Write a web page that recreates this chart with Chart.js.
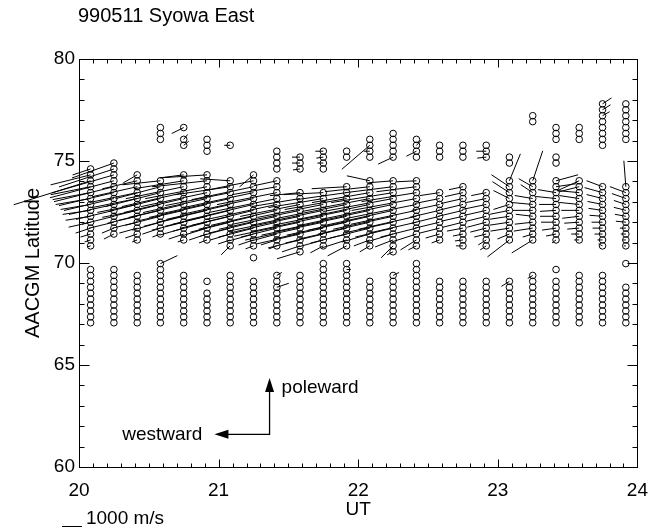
<!DOCTYPE html>
<html>
<head>
<meta charset="utf-8">
<script src="https://cdn.jsdelivr.net/npm/chart.js@4"></script>
<style>
html, body { margin: 0; padding: 0; background: #fff; }
canvas { display: block; }
</style>
</head>
<body>
<canvas id="c" width="660" height="530"></canvas>
<script>
const FONT = '"Liberation Sans", Arial, Helvetica, sans-serif';

const titleText = '990511 Syowa East';
const timeTicks = [20, 21, 22, 23, 24];
const latTicks = [60, 65, 70, 75, 80];

// scan times (UT hours), one column of range gates each
const scanTimes = [20.083, 20.25, 20.417, 20.583, 20.75, 20.917, 21.083, 21.25,
  21.417, 21.583, 21.75, 21.917, 22.083, 22.25, 22.417, 22.583, 22.75, 22.917,
  23.083, 23.25, 23.417, 23.583, 23.75, 23.917];

// AACGM latitude of each range gate
const gateLat = [67.07, 67.36, 67.65, 67.94, 68.23, 68.52, 68.81, 69.10, 69.39,
  69.68, 69.97, 70.26, 70.55, 70.84, 71.13, 71.42, 71.71, 72.00, 72.29, 72.58,
  72.87, 73.16, 73.45, 73.74, 74.03, 74.32, 74.61, 74.90, 75.19, 75.48, 75.77,
  76.06, 76.35, 76.64, 76.93, 77.22, 77.51, 77.80];

// gates with echoes in each scan
const echoGates = [
  [0,1,2,3,4,5,6,7,8,9,13,14,15,16,17,18,19,20,21,22,23,24,25,26],
  [0,1,2,3,4,5,6,7,8,9,15,16,17,18,19,20,21,22,23,24,25,26,27],
  [0,1,2,3,4,5,6,7,8,14,15,16,17,18,19,20,21,22,23,24,25],
  [0,1,2,3,4,5,6,7,8,9,10,15,16,17,18,19,20,21,22,23,24,31,32,33],
  [0,1,2,3,4,5,6,7,8,14,15,16,17,18,19,20,21,22,23,24,25,30,31,33],
  [0,1,2,3,4,5,7,14,15,16,17,18,19,20,21,22,23,24,25,29,30,31],
  [0,1,2,3,4,5,6,7,8,13,14,15,16,17,18,19,20,21,22,23,24,30],
  [0,1,2,3,4,5,6,7,11,13,14,15,16,17,18,19,20,21,22,23,24,25],
  [0,1,2,3,4,5,6,7,8,13,14,15,16,17,18,19,20,21,22,23,24,26,27,28,29],
  [0,1,2,3,4,5,6,7,8,12,13,14,15,16,17,18,19,20,21,22,26,27,28],
  [0,1,2,3,4,5,6,7,8,9,10,13,14,15,16,17,18,19,20,21,22,26,27,28,29],
  [0,1,2,3,4,5,6,7,8,9,10,13,14,15,16,17,18,19,20,21,22,23,28,29],
  [0,1,2,3,4,5,6,7,13,14,15,16,17,18,19,20,21,22,23,24,28,29,30,31],
  [0,1,2,3,4,5,6,7,8,12,13,14,15,16,17,18,19,20,21,22,23,24,28,29,30,31,32],
  [0,1,2,3,4,5,6,7,8,9,10,13,14,15,16,17,18,19,20,21,22,23,24,28,29,30,31],
  [0,1,2,3,4,5,6,7,14,15,16,17,18,19,20,21,22,28,29,30],
  [0,1,2,3,4,5,6,7,13,14,15,16,17,18,19,20,21,22,23,28,29,30],
  [0,1,2,3,4,5,6,7,13,14,15,16,17,18,19,20,21,22,28,29,30],
  [0,1,2,3,4,5,6,7,14,15,16,17,18,19,20,21,22,23,24,27,28],
  [0,1,2,3,4,5,6,7,8,14,15,16,17,18,19,20,21,22,23,24,34,35],
  [0,1,2,3,4,5,6,7,9,14,15,16,17,18,19,20,21,22,23,24,27,28,31,32,33],
  [0,1,2,3,4,5,6,7,8,14,15,16,17,18,19,20,21,22,23,24,31,32,33],
  [0,1,2,3,4,5,6,7,8,13,14,15,16,17,18,19,20,21,22,23,30,31,32,33,34,35,36,37],
  [0,1,2,3,4,5,6,10,13,14,15,16,17,18,19,20,21,22,23,31,32,33,34,35,36,37]
];

// velocity vectors per scan: [gate, eastward m/s, northward m/s]
const vectors = [
  [[26,-900,-300],[25,-2000,-500],[24,-3850,-1200],[23,-2000,-400],[22,-1900,-350],[21,-1750,-300],[20,-1500,-250],[19,-1400,-200],[18,-1250,-200],[17,-1100,-250],[16,-750,-250],[15,-500,-150],[14,-300,-100],[13,-150,-50]],
  [[27,-2100,-750],[26,-2750,-900],[25,-3100,-900],[24,-3200,-850],[23,-3000,-750],[22,-2750,-650],[21,-2500,-600],[20,-2250,-500],[19,-1900,-450],[18,-1600,-400],[17,-1250,-300],[16,-600,-250],[15,-500,-250]],
  [[25,-700,-400],[24,-1750,-400],[23,-2250,-500],[22,-2400,-500],[21,-2250,-450],[20,-2000,-400],[19,-1750,-350],[18,-1500,-350],[17,-1250,-300],[16,-900,-250],[15,-600,-200],[14,-250,-100]],
  [[24,-1900,-200],[23,-2250,-600],[22,-2750,-700],[21,-2600,-650],[20,-2400,-600],[19,-2100,-500],[18,-1750,-450],[17,-1400,-400],[16,-900,-300],[15,-400,-150],[10,850,400]],
  [[25,-1200,-150],[24,-2500,-400],[23,-2900,-600],[22,-3100,-700],[21,-3000,-700],[20,-2750,-650],[19,-2400,-550],[18,-2000,-500],[17,-1600,-400],[16,-1200,-350],[15,-750,-250],[14,-300,-100],[33,-600,-300],[31,200,250],[30,250,200]],
  [[25,-2350,-150],[24,-2750,-300],[23,-3100,-600],[22,-3300,-700],[21,-3200,-700],[20,-2900,-650],[19,-2500,-600],[18,-2100,-500],[17,-1700,-450],[16,-1300,-400],[15,-900,-300],[14,-400,-150]],
  [[24,-1500,100],[23,-2750,-400],[22,-3250,-650],[21,-3400,-750],[20,-3200,-750],[19,-2900,-700],[18,-2500,-600],[17,-2000,-500],[16,-1500,-400],[15,-1000,-300],[14,-600,-200],[13,-450,-450],[30,-300,0]],
  [[25,-700,-600],[24,-2500,-500],[23,-3100,-650],[22,-3500,-750],[21,-3600,-800],[20,-3400,-800],[19,-3100,-750],[18,-2750,-650],[17,-2250,-550],[16,-1750,-450],[15,-1250,-350],[14,-750,-250],[13,-400,-150]],
  [[24,-1150,-250],[23,-2250,-400],[22,-3000,-600],[21,-3400,-700],[20,-3500,-750],[19,-3300,-750],[18,-2900,-650],[17,-2400,-550],[16,-1800,-450],[15,-1300,-350],[14,-800,-250],[13,-400,-150],[8,250,150],[6,600,200]],
  [[22,-1500,-150],[21,-2400,-400],[20,-3000,-600],[19,-3400,-700],[18,-3600,-750],[17,-3300,-700],[16,-2750,-600],[15,-2200,-500],[14,-1600,-400],[13,-900,-300],[12,-1150,-350],[28,-400,0],[27,-400,0],[26,-350,-50]],
  [[22,-2000,-100],[21,-2750,-450],[20,-3300,-650],[19,-3600,-750],[18,-3500,-750],[17,-3100,-650],[16,-2500,-550],[15,-1900,-450],[14,-1250,-350],[13,-650,-350],[29,-400,0],[28,-350,-50],[27,-300,0]],
  [[23,-1750,-100],[22,-2500,-350],[21,-3100,-550],[20,-3500,-700],[19,-3700,-750],[18,-3500,-750],[17,-3000,-650],[16,-2400,-550],[15,-1800,-450],[14,-1250,-400],[13,-950,-500],[9,200,0]],
  [[24,-1150,250],[23,-2250,-250],[22,-2900,-500],[21,-3400,-650],[20,-3600,-750],[19,-3500,-750],[18,-3100,-700],[17,-2600,-600],[16,-2000,-500],[15,-1400,-400],[14,-800,-300],[13,-500,-300],[30,-1400,-1200],[29,-300,0]],
  [[24,-1250,-100],[23,-2400,-300],[22,-3100,-500],[21,-3500,-650],[20,-3600,-750],[19,-3400,-750],[18,-3000,-650],[17,-2500,-550],[16,-1900,-450],[15,-1350,-400],[14,-900,-350],[13,-600,-600],[12,-300,-150],[28,-750,-350],[8,300,150]],
  [[24,-1000,-50],[23,-2000,-250],[22,-2750,-450],[21,-3250,-600],[20,-3500,-700],[19,-3300,-700],[18,-2900,-650],[17,-2400,-550],[16,-1800,-450],[15,-1250,-400],[14,-800,-500],[13,-400,-200],[29,-500,-250],[30,250,250]],
  [[22,-1000,-150],[21,-1250,-250],[20,-1400,-300],[19,-1500,-350],[18,-1400,-350],[17,-1250,-300],[16,-1000,-250],[15,-700,-200],[14,-400,-150]],
  [[23,-700,-150],[22,-900,-200],[21,-1100,-250],[20,-1250,-300],[19,-1250,-300],[18,-1100,-250],[17,-1000,-250],[16,-800,-150],[15,-500,-100],[14,-400,-50],[13,-350,0]],
  [[22,-750,-150],[21,-1000,-200],[20,-1200,-250],[19,-1100,-250],[18,-1000,-250],[17,-950,-250],[16,-800,-200],[15,-600,-150],[14,-400,-250],[13,-300,-200],[29,-500,0],[28,-450,-50]],
  [[24,550,1350],[23,-900,600],[22,-850,550],[21,-800,400],[20,-800,-250],[19,-1000,-200],[18,-1000,-150],[17,-1000,-150],[16,-950,-150],[15,-600,-250],[14,-1100,-850],[7,-400,-250]],
  [[24,500,1500],[23,-700,400],[22,-600,400],[21,-900,150],[20,-1100,100],[19,-1000,0],[18,-850,100],[17,-900,-100],[16,-950,-150],[15,-500,-150],[14,-1050,-650],[8,-250,-150]],
  [[24,1100,300],[23,1000,150],[22,-900,150],[21,-1000,100],[20,-850,0],[19,-800,-50],[18,-800,0],[17,-750,0],[16,-700,-100],[15,-500,-100],[14,-200,-150]],
  [[24,-1100,-500],[23,-1000,-250],[22,-1100,100],[21,-1000,150],[20,-1000,100],[19,-900,0],[18,-850,-100],[17,-750,-50],[16,-600,-50],[15,-400,0],[14,-250,0]],
  [[23,-800,300],[22,-900,250],[21,-800,200],[20,-750,150],[19,-700,100],[18,-650,50],[17,-550,0],[16,-500,0],[15,-400,0],[14,-250,0],[13,-200,100],[37,450,300],[36,400,250],[35,350,200]],
  [[23,-100,1300],[22,-800,300],[21,-700,250],[20,-600,200],[19,-600,150],[18,-550,100],[17,-500,50],[16,-300,0],[15,-250,0],[14,-150,0],[13,-100,0]]
];

// reference speed for the scale bar, and its length measured along the UT axis
const scaleBarSpeed = 1000;
const scaleBarHours = 0.143;

// direction key (UT hours / degrees)
const keyFoot = [21.365, 61.6];
const keyPolewardTip = 64.36;
const keyWestwardTip = 20.97;

const points = [];
echoGates.forEach((gates, c) => {
  gates.forEach(g => points.push({ x: scanTimes[c], y: gateLat[g] }));
});

function arrowHead(ctx, x, y, dx, dy, len, half) {
  const px = -dy, py = dx;
  ctx.beginPath();
  ctx.moveTo(x, y);
  ctx.lineTo(x - dx * len + px * half, y - dy * len + py * half);
  ctx.lineTo(x - dx * len - px * half, y - dy * len - py * half);
  ctx.closePath();
  ctx.fill();
}

const decor = {
  id: 'decor',
  afterDatasetsDraw(chart) {
    const { ctx, chartArea: a, scales: { x, y } } = chart;
    ctx.save();
    ctx.strokeStyle = '#000';
    ctx.fillStyle = '#000';
    ctx.lineWidth = 1;

    // velocity vectors from each gate
    const L = x.getPixelForValue(x.min + scaleBarHours) - x.getPixelForValue(x.min);
    ctx.beginPath();
    vectors.forEach((list, c) => {
      list.forEach(([g, ve, vn]) => {
        const px = x.getPixelForValue(scanTimes[c]);
        const py = y.getPixelForValue(gateLat[g]);
        ctx.moveTo(px, py);
        ctx.lineTo(px + ve / scaleBarSpeed * L, py - vn / scaleBarSpeed * L);
      });
    });
    ctx.stroke();

    // frame
    const l = Math.round(a.left) + 0.5, r = Math.round(a.right) + 0.5;
    const t = Math.round(a.top) + 0.5, b = Math.round(a.bottom) + 0.5;
    ctx.strokeRect(l, t, r - l, b - t);

    // inward ticks on all four sides
    ctx.beginPath();
    for (let k = 0; k <= 40; k++) {
      const v = x.min + k / 10;
      const px = Math.round(x.getPixelForValue(v)) + 0.5;
      const len = k % 10 === 0 ? 8 : 4;
      ctx.moveTo(px, b); ctx.lineTo(px, b - len);
      ctx.moveTo(px, t); ctx.lineTo(px, t + len);
    }
    for (let k = 0; k <= 20; k++) {
      const v = y.min + k;
      const py = Math.round(y.getPixelForValue(v)) + 0.5;
      const len = k % 5 === 0 ? 10 : 5;
      ctx.moveTo(l, py); ctx.lineTo(l + len, py);
      ctx.moveTo(r, py); ctx.lineTo(r - len, py);
    }
    ctx.stroke();

    // direction key
    const fx = x.getPixelForValue(keyFoot[0]), fy = y.getPixelForValue(keyFoot[1]);
    const ty = y.getPixelForValue(keyPolewardTip), tx = x.getPixelForValue(keyWestwardTip);
    ctx.lineWidth = 1.3;
    ctx.beginPath();
    ctx.moveTo(tx + 10, fy); ctx.lineTo(fx, fy); ctx.lineTo(fx, ty + 10);
    ctx.stroke();
    arrowHead(ctx, fx, ty, 0, -1, 14, 4.5);
    arrowHead(ctx, tx, fy, -1, 0, 14, 4.5);

    ctx.font = '19px ' + FONT;
    ctx.textBaseline = 'middle';
    ctx.textAlign = 'left';
    ctx.fillText('poleward', fx + 12, ty + 10);
    ctx.textAlign = 'right';
    ctx.fillText('westward', tx - 12, fy);

    // title
    ctx.textAlign = 'left';
    ctx.font = '20px ' + FONT;
    ctx.fillText(titleText, 78, 16);

    // scale bar
    ctx.lineWidth = 1;
    ctx.beginPath();
    ctx.moveTo(62, 526.5); ctx.lineTo(62 + L, 526.5);
    ctx.stroke();
    ctx.font = '19px ' + FONT;
    ctx.fillText(scaleBarSpeed + ' m/s', 62 + L + 4, 519);
    ctx.restore();
  }
};

new Chart(document.getElementById('c'), {
  type: 'scatter',
  data: {
    datasets: [{
      data: points,
      pointStyle: 'circle',
      pointRadius: 3.3,
      pointHoverRadius: 3.3,
      pointBorderWidth: 1,
      borderColor: '#000',
      backgroundColor: 'rgba(0,0,0,0)'
    }]
  },
  options: {
    responsive: false,
    animation: false,
    devicePixelRatio: 1,
    events: [],
    layout: { padding: { left: 0, top: 59, right: 21, bottom: 0 } },
    plugins: { legend: { display: false }, tooltip: { enabled: false } },
    scales: {
      x: {
        type: 'linear', min: 20, max: 24,
        afterFit: s => { s.height = 63; },
        afterBuildTicks: s => { s.ticks = timeTicks.map(v => ({ value: v })); },
        grid: { display: false, drawTicks: false },
        border: { display: false },
        ticks: { color: '#000', font: { family: FONT, size: 19 }, padding: 12, maxRotation: 0, autoSkip: false },
        title: { display: true, text: 'UT', color: '#000', font: { family: FONT, size: 19 }, padding: { top: 0, bottom: 9 } }
      },
      y: {
        type: 'linear', min: 60, max: 80,
        afterFit: s => { s.width = 79; },
        afterBuildTicks: s => { s.ticks = latTicks.map(v => ({ value: v })); },
        grid: { display: false, drawTicks: false },
        border: { display: false },
        ticks: { color: '#000', font: { family: FONT, size: 19 }, padding: 4 },
        title: { display: true, text: 'AACGM Latitude', color: '#000', font: { family: FONT, size: 20 }, padding: { top: 21, bottom: 0 } }
      }
    }
  },
  plugins: [decor]
});
</script>
</body>
</html>
